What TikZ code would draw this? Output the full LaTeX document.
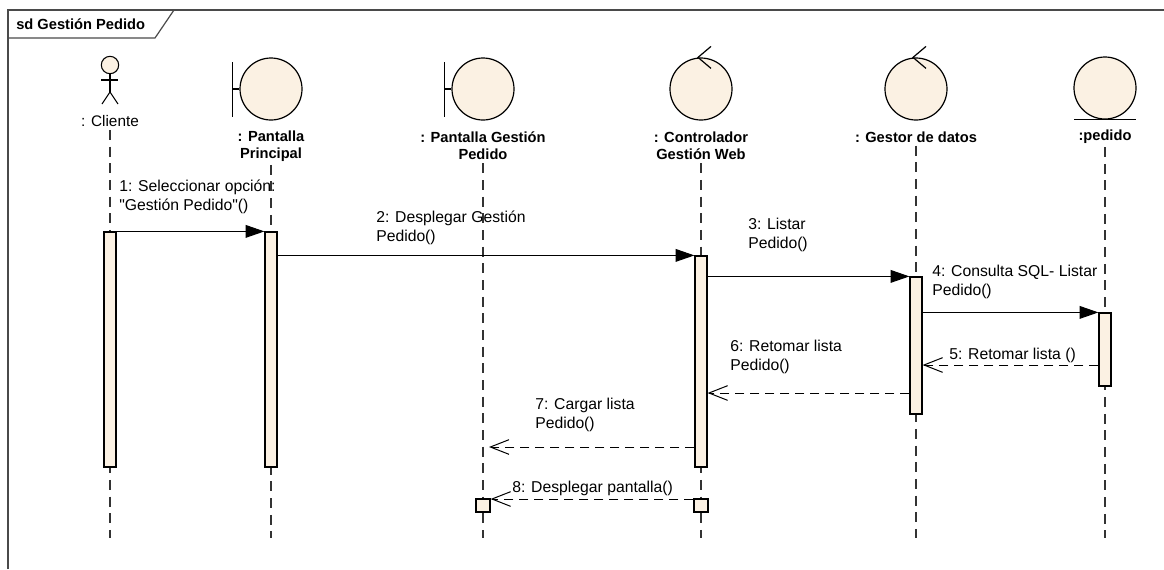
\documentclass[tikz,border=0pt]{standalone}
\usepackage{fontspec}
\setmainfont{Liberation Sans}
\usetikzlibrary{arrows.meta, positioning, calc}
\definecolor{cFill}{HTML}{FBF1E3}
\definecolor{cLine}{HTML}{333333}
\definecolor{cFrame}{HTML}{4A4A4A}
\tikzset{
  headlabel/.style={font=\bfseries\fontsize{11}{13}\selectfont, align=center, inner sep=0pt},
  plainlabel/.style={font=\fontsize{11.5}{13}\selectfont, align=center, inner sep=0pt},
  msglabel/.style={font=\fontsize{11.8}{13.8}\selectfont, align=left, anchor=north west,
    inner sep=0pt, execute at begin node=\strut},
  icon/.style={circle, draw=black, fill=cFill, line width=0.9pt, minimum size=46.5pt, inner sep=0pt},
  iconline/.style={draw=black, line width=0.9pt},
  activation/.style={draw=black, fill=cFill, line width=0.9pt, minimum width=9pt, inner sep=0pt},
  lifeline/.style={draw=cLine, line width=0.9pt, dash pattern=on 7.5pt off 5pt},
  call/.style={-{Triangle[length=14pt, width=9.5pt]}, line width=0.75pt},
  reply/.style={-{Straight Barb[length=14pt, width=11pt]}, line width=0.75pt,
    dash pattern=on 6.75pt off 4.5pt},
}

\begin{document}
\begin{tikzpicture}[x=0.75pt, y=-0.75pt]
  \useasboundingbox (0,0) rectangle (1164,569);

  % ----------------------------------------------------------------
  % Frame with its name tab
  % ----------------------------------------------------------------
  \draw[cFrame, line width=0.9pt] (8,569) -- (8,10) -- (1164,10);
  \draw[cFrame, line width=0.9pt] (8,38) -- (155,38) -- (174,10);
  \node[headlabel, anchor=west] (title) at (16,24) {sd Gestión Pedido};

  % ----------------------------------------------------------------
  % Participants
  % ----------------------------------------------------------------
  % actor
  \fill[black!30] (112,67) circle (6.5);
  \node[circle, draw=black, fill=cFill, line width=0.8pt, minimum size=13pt, inner sep=0pt]
    (head) at (110,65) {};
  \coordinate (hip) at (110,92);
  \draw[iconline, line width=0.8pt] (head.south) -- (hip);
  \draw[iconline, line width=0.8pt] (101,80) -- (118,80);
  \draw[iconline, line width=0.8pt] (102,104) -- (hip) -- (118,104);
  \node[plainlabel] (lblCliente) at (110,121) {: Cliente};

  % boundaries
  \node[icon] (bndPrincipal) at (271,89) {};
  \node[icon] (bndGestion)   at (483,89) {};
  \foreach \b in {bndPrincipal, bndGestion} {
    \draw[iconline] ($(\b.west)+(-7,-27)$) -- ($(\b.west)+(-7,28)$);
    \draw[iconline] ($(\b.west)+(-7,0)$) -- (\b.west);
  }
  \node[headlabel] (lblPrincipal) at (271,146) {: Pantalla\\Principal};
  \node[headlabel] (lblGestion)   at (483,146) {: Pantalla Gestión\\Pedido};

  % controls
  \node[icon] (ctlControl) at (701,89) {};
  \node[icon] (ctlGestor)  at (916,89) {};
  \foreach \c in {ctlControl, ctlGestor} {
    \draw[iconline] ($(\c.north)+(10,-11)$) -- ($(\c.north)+(-3,0)$) -- ($(\c.north)+(10,11)$);
  }
  \node[headlabel] (lblControl) at (701,146) {: Controlador\\Gestión Web};
  \node[headlabel] (lblGestor)  at (916,137) {: Gestor de datos};

  % entity
  \node[icon] (entPedido) at (1105,88) {};
  \draw[iconline] ($(entPedido.south)+(-31,0)$) -- ($(entPedido.south)+(31,0)$);
  \node[headlabel] (lblPedido) at (1105,137) {:pedido};

  % ----------------------------------------------------------------
  % Lifelines
  % ----------------------------------------------------------------
  \coordinate (bottom) at (0,538);
  \foreach \l in {lblCliente, lblPrincipal, lblGestion, lblControl, lblGestor, lblPedido} {
    \draw[lifeline] ($(\l.south)+(0,3)$) -- (\l.south |- bottom);
  }

  % ----------------------------------------------------------------
  % Activations
  % ----------------------------------------------------------------
  \node[activation, minimum height=176.25pt] (actCliente)   at (110,349.5) {};
  \node[activation, minimum height=176.25pt] (actPrincipal) at (271,349.5) {};
  \node[activation, minimum height=158.25pt] (actControl)   at (701,361.5) {};
  \node[activation, minimum height=102.75pt] (actGestor)    at (916,345.5) {};
  \node[activation, minimum height=54.75pt]  (actPedido)    at (1105,349.5) {};
  \node[activation, minimum width=10.5pt, minimum height=9.75pt] (actGestion8) at (483,505.5) {};
  \node[activation, minimum width=10.5pt, minimum height=9.75pt] (actControl8) at (701,505.5) {};

  % ----------------------------------------------------------------
  % Messages
  % ----------------------------------------------------------------
  \coordinate (r5) at (0,365);
  \coordinate (r6) at (0,393);
  \coordinate (r7) at (0,447);
  \coordinate (m7end) at (489,447);
  \coordinate (r8) at (0,499);

  \draw[call] (actCliente.north east) -- (actPrincipal.north west);
  \draw[call] (actPrincipal.east |- actControl.north) -- (actControl.north west);
  \draw[call] (actControl.east |- actGestor.north) -- (actGestor.north west);
  \draw[call] (actGestor.east |- actPedido.north) -- (actPedido.north west);
  \draw[reply] (actPedido.west |- r5) -- (actGestor.east |- r5);
  \draw[reply] (actGestor.west |- r6) -- (actControl.east |- r6);
  \draw[reply] (actControl.west |- r7) -- (m7end);
  \draw[reply] (actControl8.west |- r8) -- (actGestion8.east |- r8);

  \node[msglabel] (m1) at (119,180) {1: Seleccionar opción:\\\textquotedbl Gestión Pedido\textquotedbl()};
  \node[msglabel] (m2) at (376,211) {2: Desplegar Gestión\\Pedido()};
  \node[msglabel] (m3) at (748,218) {3: Listar\\Pedido()};
  \node[msglabel] (m4) at (932,265) {4: Consulta SQL- Listar\\Pedido()};
  \node[msglabel] (m5) at (949,346) {5: Retomar lista ()};
  \node[msglabel] (m6) at (730,340) {6: Retomar lista\\Pedido()};
  \node[msglabel] (m7) at (535,398) {7: Cargar lista\\Pedido()};
  \node[msglabel] (m8) at (512,479) {8: Desplegar pantalla()};

\end{tikzpicture}
\end{document}
